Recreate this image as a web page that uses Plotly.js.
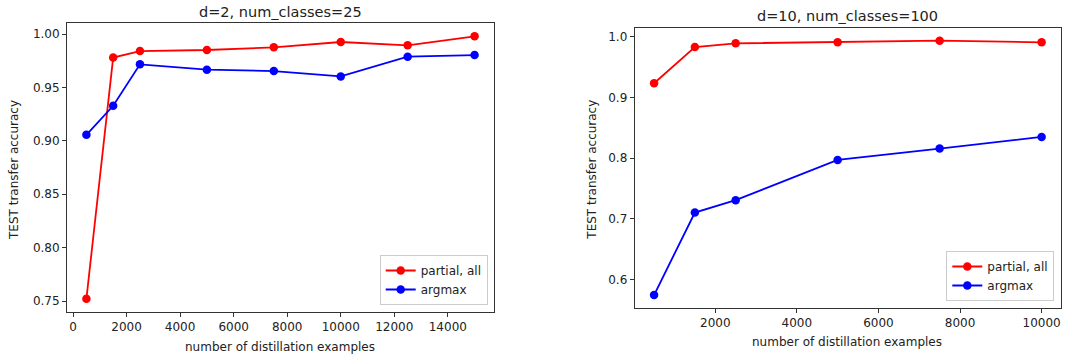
<!DOCTYPE html>
<html>
<head>
<meta charset="utf-8">
<script src="https://cdn.plot.ly/plotly-3.0.1.min.js"></script>
<style>html,body{margin:0;padding:0;background:#fff;}#chart{width:1067px;height:358px;}</style>
</head>
<body>
<div id="chart"></div>
<script>
// Left panel: d=2, num_classes=25
const xLeft = [500, 1500, 2500, 5000, 7500, 10000, 12500, 15000];
const partialLeft = [0.752, 0.978, 0.984, 0.985, 0.9875, 0.9925, 0.9894, 0.9978];
const argmaxLeft = [0.9056, 0.9328, 0.9716, 0.9666, 0.9653, 0.9603, 0.9788, 0.9803];
// Right panel: d=10, num_classes=100
const xRight = [500, 1500, 2500, 5000, 7500, 10000];
const partialRight = [0.9233, 0.983, 0.989, 0.991, 0.9934, 0.9907];
const argmaxRight = [0.5743, 0.7103, 0.7307, 0.797, 0.8157, 0.8349];

const titles = ["d=2, num_classes=25", "d=10, num_classes=100"];
const xLabel = "number of distillation examples";
const yLabel = "TEST transfer accuracy";
const seriesNames = ["partial, all", "argmax"];
const seriesColors = ["#ff0000", "#0000ff"];

const FONT = "DejaVu Sans, sans-serif";
const W = 1067, H = 358;

function trace(x, y, i, xa, ya, lg) {
  return {
    x: x, y: y, type: "scatter", mode: "lines+markers",
    name: seriesNames[i], xaxis: xa, yaxis: ya, legend: lg,
    line: {color: seriesColors[i], width: 1.8},
    marker: {color: seriesColors[i], size: 8.5}
  };
}

const data = [
  trace(xLeft, partialLeft, 0, "x", "y", "legend"),
  trace(xLeft, argmaxLeft, 1, "x", "y", "legend"),
  trace(xRight, partialRight, 0, "x2", "y2", "legend2"),
  trace(xRight, argmaxRight, 1, "x2", "y2", "legend2")
];

function axisBase() {
  return {
    showgrid: false, zeroline: false, showline: true, mirror: true,
    linecolor: "#333", linewidth: 1, ticks: "outside", ticklen: 4,
    tickcolor: "#333", tickwidth: 1,
    tickfont: {family: FONT, size: 12, color: "#222"}
  };
}

const legendBase = {
  bgcolor: "rgba(255,255,255,0.9)", bordercolor: "#cccccc", borderwidth: 1,
  font: {family: FONT, size: 12, color: "#222"},
  xanchor: "right", yanchor: "bottom", tracegroupgap: 0
};

function ann(text, x, y, extra) {
  return Object.assign({
    text: text, x: x, y: y, xref: "paper", yref: "paper",
    showarrow: false, xanchor: "center", yanchor: "middle",
    font: {family: FONT, size: 12, color: "#222"}
  }, extra || {});
}

const layout = {
  width: W, height: H,
  margin: {l: 0, r: 0, t: 0, b: 0},
  paper_bgcolor: "#fff", plot_bgcolor: "#fff",
  showlegend: true,
  xaxis: Object.assign(axisBase(), {domain: [67/W, 494/W], range: [-225, 15725], tick0: 0, dtick: 2000, tickformat: "d"}),
  yaxis: Object.assign(axisBase(), {domain: [1-312/H, 1-23/H], range: [0.7397, 1.0103], tick0: 0.75, dtick: 0.05, tickformat: ".2f"}),
  xaxis2: Object.assign(axisBase(), {anchor: "y2", domain: [634.7/W, 1061/W], range: [25, 10475], tick0: 0, dtick: 2000, tickformat: "d"}),
  yaxis2: Object.assign(axisBase(), {anchor: "x2", domain: [1-307.7/H, 1-28/H], range: [0.5535, 1.0143], tick0: 0.6, dtick: 0.1, tickformat: ".1f"}),
  legend: Object.assign({}, legendBase, {x: 487.7/W, y: 1-305/H}),
  legend2: Object.assign({}, legendBase, {x: 1054.3/W, y: 1-301/H}),
  annotations: [
    ann(titles[0], 280/W, 1-12.5/H, {font: {family: FONT, size: 14.5, color: "#222"}}),
    ann(titles[1], 847/W, 1-16/H, {font: {family: FONT, size: 14.5, color: "#222"}}),
    ann(xLabel, 280/W, 1-346.5/H),
    ann(xLabel, 847/W, 1-341.5/H),
    ann(yLabel, 14/W, 1-170/H, {textangle: -90}),
    ann(yLabel, 591.7/W, 1-170/H, {textangle: -90})
  ]
};

Plotly.newPlot("chart", data, layout, {staticPlot: true, displayModeBar: false});
</script>
</body>
</html>
